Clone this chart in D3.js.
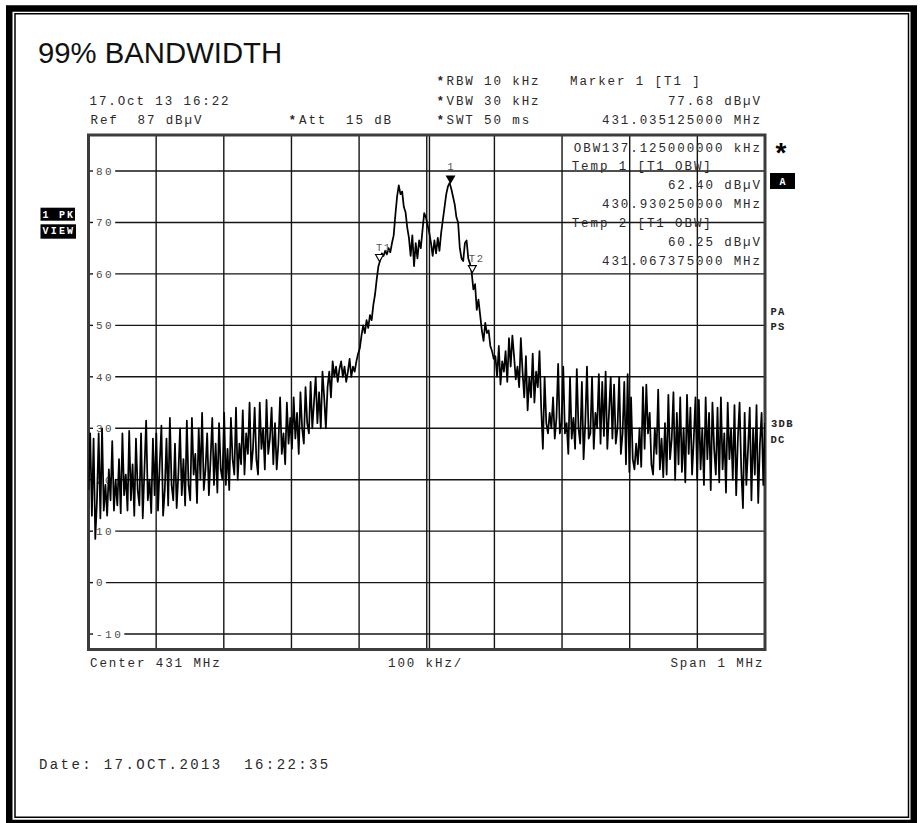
<!DOCTYPE html>
<html>
<head>
<meta charset="utf-8">
<script src="https://cdn.jsdelivr.net/npm/d3@7"></script>
<style>
  html, body { margin: 0; padding: 0; background: #fff; }
  svg { display: block; }
  text { white-space: pre; }
</style>
</head>
<body>
<svg id="chart" width="923" height="823"></svg>
<script>
// Sweep settings (MHz) and display range (dBµV)
const sweepStart = 430.5;
const sweepStop = 431.5;
const refLevel = 87;
const rangeDb = 100;
const freqDivisions = [430.6, 430.7, 430.8, 430.9, 431.0, 431.1, 431.2, 431.3, 431.4];
const levelTicks = [80, 70, 60, 50, 40, 30, 20, 10, 0, -10];
const displayLineFreq = 431.004;

// Trace levels in dBµV, one per sweep point, evenly spaced from start to stop
const traceLevels = [
  18, 29, 13, 28, 8.5, 16, 29, 12.5, 30, 14, 19, 13, 22, 16, 27.5, 14, 20, 15, 24, 13.5,
  29, 17, 21, 14, 29.5, 16, 23, 13, 28, 18, 15, 29, 12.5, 22, 31.5, 16, 20, 13.5, 28, 17,
  29, 14, 23, 30.5, 13, 18, 28, 15, 32, 19, 16, 27, 14.5, 21, 30, 17, 24, 15, 31.5, 19,
  16, 32, 21, 25, 15.5, 30, 20, 33, 18, 22, 29, 17, 24, 32, 19, 27, 17.5, 31, 22, 20,
  33, 19, 26, 18, 32, 24, 21, 34, 20, 27, 23, 33.5, 21, 29, 25, 35, 22, 26, 34, 24,
  21, 35, 26, 30, 22, 35.5, 25, 28, 34, 23, 31, 22, 27, 36, 25, 29, 23, 35, 27, 32,
  26, 36, 28, 33, 25, 37, 30, 27, 38, 31, 29, 39, 30, 35, 40, 31, 37, 30, 41, 36,
  30, 38, 41, 36, 43, 40, 42, 39, 41.5, 43, 40, 42, 39, 41, 43.5, 40, 42, 41, 43, 44.5,
  45.5, 48, 50, 48.5, 51, 49.5, 52, 51, 54, 56, 59, 61.5, 62.6, 64, 63.5, 64.5, 63.8, 65, 64.2, 66,
  67.5, 71.5, 75, 77.2, 75.5, 76, 73, 72, 69, 67, 63.5, 67.5, 61.5, 66, 63, 66.5, 65, 68.5, 71.8, 71,
  69.5, 68, 66, 63.5, 66.5, 64, 67, 64.5, 68, 70.5, 73, 75.5, 77, 77.68, 76.5, 75, 73.5, 71, 70, 65,
  63, 62.5, 66, 66.5, 63, 62, 60.25, 57, 58, 53, 55, 52, 49, 47, 50.5, 48.5, 49, 46, 45, 43.5,
  44, 40, 46, 38.5, 43, 41, 45, 39, 47.5, 42, 48, 44, 39.5, 42, 38, 47.5, 41, 36, 44, 33.5,
  40, 36, 44.5, 35, 41, 38, 45, 34, 26, 40, 31, 29, 33, 30, 36, 28, 32, 42.5, 29, 31,
  42, 29, 31, 25, 40, 28, 32, 26, 41.5, 30, 27, 39, 24, 31, 42, 28, 29, 40, 26, 33,
  30, 40.5, 27, 39, 28.5, 41, 26, 33, 40, 28, 38.5, 27, 30, 40, 25, 29, 39, 23, 40.5, 21.5,
  36, 24, 22, 27, 23, 30, 22.5, 38, 26, 38.5, 29, 33, 23, 21, 30, 25, 37.5, 22, 28, 20.5,
  31, 21, 36.5, 24, 28, 37, 20, 33, 23, 36, 21.5, 30, 19.5, 36.5, 25, 34, 21, 28, 36, 20,
  35.5, 22, 30, 19, 36, 24, 33, 18, 35, 26, 21, 34, 19.5, 36, 22, 29, 17.5, 35, 24, 30,
  20, 34.5, 17, 28, 35, 22, 14.5, 33, 19, 26, 34, 16, 30, 21, 34.5, 15.5, 27, 33, 19, 31
];

// Markers: the peak marker and the two OBW temporary markers
const markerNames = ["1", "T1", "T2"];
const markerFreqs = [431.035125, 430.930250, 431.067375];
const markerLevels = [77.68, 62.40, 60.25];
const markerFilled = [true, false, false];

const MONO = "'Liberation Mono', 'Courier New', monospace";
const SANS = "'Liberation Sans', Arial, sans-serif";

const svg = d3.select("#chart");
const plot = { left: 88.5, right: 765, top: 135, bottom: 649.5 };

const x = d3.scaleLinear().domain([sweepStart, sweepStop]).range([plot.left, plot.right]);
const y = d3.scaleLinear().domain([refLevel - rangeDb, refLevel]).range([plot.bottom, plot.top]);

function txt(str, px, py, o = {}) {
  const ls = o.ls !== undefined ? o.ls : 1.9;
  const anchor = o.anchor || "start";
  return svg.append("text")
    .attr("x", anchor === "end" ? px + ls : px)
    .attr("y", py)
    .attr("font-family", o.family || MONO)
    .attr("font-size", o.size || 12.5)
    .attr("letter-spacing", ls)
    .attr("font-weight", o.weight || "normal")
    .attr("fill", o.fill || "#2a2a2a")
    .attr("text-anchor", anchor)
    .text(str);
}

// Page frame: heavy outer border with a thin inner rule
svg.append("rect").attr("x", 9.25).attr("y", 8.5).attr("width", 904.5).attr("height", 814.5)
  .attr("fill", "none").attr("stroke", "#000").attr("stroke-width", 6.5);
svg.append("rect").attr("x", 15).attr("y", 13.75).attr("width", 893.5).attr("height", 803.5)
  .attr("fill", "none").attr("stroke", "#000").attr("stroke-width", 1.5);

// Title
txt("99% BANDWIDTH", 38, 63, { family: SANS, size: 29.3, ls: 0, fill: "#111" });

// Header block
const star = (px, py) => svg.append("text").attr("x", px).attr("y", py)
  .attr("font-family", SANS).attr("font-size", 12).attr("font-weight", "bold")
  .attr("fill", "#222").text("*");
star(438, 85); star(438, 105); star(438, 124); star(290, 124);
txt("RBW 10 kHz", 446.5, 85);
txt("VBW 30 kHz", 446.5, 105);
txt("SWT 50 ms", 446.5, 124);
txt("Att  15 dB", 299, 124);
txt("17.Oct 13 16:22", 89.5, 105);
txt("Ref  87 dBµV", 90.5, 124);
txt("Marker 1 [T1 ]", 570, 85);
txt("77.68 dBµV", 760, 105, { anchor: "end" });
txt("431.035125000 MHz", 760, 124, { anchor: "end" });

// Grid
const grid = svg.append("g").attr("stroke", "#151515").attr("stroke-width", 1.4);
grid.selectAll("line.v").data(freqDivisions).join("line")
  .attr("x1", d => x(d)).attr("x2", d => x(d))
  .attr("y1", plot.top).attr("y2", plot.bottom);
grid.append("line")
  .attr("x1", x(displayLineFreq)).attr("x2", x(displayLineFreq))
  .attr("y1", plot.top).attr("y2", plot.bottom);

levelTicks.forEach(v => {
  const t = txt(String(v), 96, y(v) + 3.8, { size: 11, ls: 2.5, fill: "#4a4a4a" });
  const end = 96 + t.node().getComputedTextLength();
  grid.append("line").attr("x1", plot.left).attr("x2", 93).attr("y1", y(v)).attr("y2", y(v));
  grid.append("line").attr("x1", end + 1).attr("x2", plot.right).attr("y1", y(v)).attr("y2", y(v));
});

// Plot border
svg.append("rect")
  .attr("x", plot.left).attr("y", plot.top)
  .attr("width", plot.right - plot.left).attr("height", plot.bottom - plot.top)
  .attr("fill", "none").attr("stroke", "#3c3c3c").attr("stroke-width", 3);

// Marker readouts inside the diagram
txt("OBW137.125000000 kHz", 760, 151.5, { anchor: "end" });
txt("Temp 1 [T1 OBW]", 571.7, 170);
txt("62.40 dBµV", 760, 189.3, { anchor: "end" });
txt("430.930250000 MHz", 760, 208, { anchor: "end" });
txt("Temp 2 [T1 OBW]", 571.7, 227);
txt("60.25 dBµV", 760, 246, { anchor: "end" });
txt("431.067375000 MHz", 760, 265, { anchor: "end" });

// Trace
const step = (sweepStop - sweepStart) / (traceLevels.length - 1);
svg.append("clipPath").attr("id", "plotClip").append("rect")
  .attr("x", plot.left).attr("y", plot.top)
  .attr("width", plot.right - plot.left).attr("height", plot.bottom - plot.top);
svg.append("path")
  .datum(traceLevels)
  .attr("clip-path", "url(#plotClip)")
  .attr("fill", "none").attr("stroke", "#000").attr("stroke-width", 1.75)
  .attr("stroke-linejoin", "round")
  .attr("d", d3.line().x((d, i) => x(sweepStart + i * step)).y(d => y(d)));

// Marker symbols and labels
markerNames.forEach((name, i) => {
  const mx = x(markerFreqs[i]);
  const my = y(markerLevels[i]);
  svg.append("path")
    .attr("d", `M${mx - 4},${my - 7} L${mx + 4},${my - 7} L${mx},${my} Z`)
    .attr("fill", markerFilled[i] ? "#000" : "#fff")
    .attr("stroke", "#000").attr("stroke-width", 1.1);
  if (markerFilled[i]) {
    txt(name, mx, my - 13, { size: 10.5, ls: 0, fill: "#555", anchor: "middle" });
  } else {
    txt(name, mx - 3.5, my - 11, { size: 10.5, ls: 1.5, fill: "#555" });
  }
});

// Side annotations
svg.append("text").attr("x", 781).attr("y", 162).attr("text-anchor", "middle")
  .attr("font-family", SANS).attr("font-size", 28).attr("font-weight", "bold")
  .attr("fill", "#000").text("*");
svg.append("rect").attr("x", 770).attr("y", 173).attr("width", 25).attr("height", 16).attr("fill", "#000");
txt("A", 782.5, 185, { size: 10, ls: 0, weight: "bold", fill: "#fff", anchor: "middle" });
svg.append("rect").attr("x", 40.5).attr("y", 207.7).attr("width", 34.5).attr("height", 13).attr("fill", "#000");
svg.append("rect").attr("x", 40.5).attr("y", 224.3).attr("width", 35.5).attr("height", 14.4).attr("fill", "#000");
txt("1 PK", 42.5, 217.5, { size: 10, ls: 2.2, weight: "bold", fill: "#fff" });
txt("VIEW", 42.5, 234, { size: 10, ls: 2.2, weight: "bold", fill: "#fff" });
txt("PA", 770.5, 314.5, { size: 10.5, ls: 1.3, weight: "bold", fill: "#222" });
txt("PS", 770.5, 330, { size: 10.5, ls: 1.3, weight: "bold", fill: "#222" });
txt("3DB", 771, 426.7, { size: 10.5, ls: 1.3, weight: "bold", fill: "#222" });
txt("DC", 770.5, 442.7, { size: 10.5, ls: 1.3, weight: "bold", fill: "#222" });

// Frequency axis captions
txt("Center 431 MHz", 90, 667);
txt("100 kHz/", 388, 667);
txt("Span 1 MHz", 762.5, 667, { anchor: "end" });

// Footer
txt("Date: 17.OCT.2013  16:22:35", 39, 769, { size: 14, ls: 2.4 });
</script>
</body>
</html>
